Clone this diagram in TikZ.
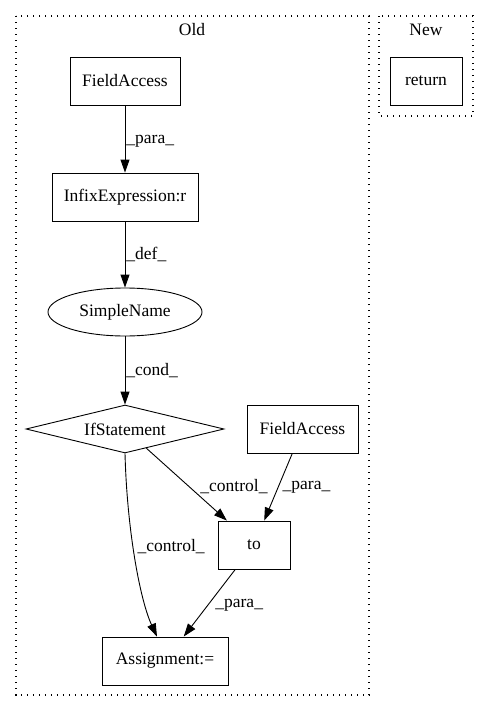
\documentclass[tikz,border=0pt]{standalone}
\usepackage{fontspec}
\setmainfont{Liberation Serif}
\usetikzlibrary{shapes.geometric, arrows.meta, calc}

\begin{document}
\begin{tikzpicture}[x=1pt, y=-1pt, font=\fontsize{17.5}{20}\selectfont,
  box/.style={draw, line width=0.9pt, minimum width=#1, minimum height=48pt, inner sep=0pt},
  oval/.style={draw, ellipse, line width=0.9pt, minimum width=154pt, minimum height=48pt, inner sep=0pt},
  cond/.style={draw, diamond, aspect=4, line width=0.9pt, minimum width=198pt, minimum height=48pt, inner sep=0pt},
  edge/.style={-{Triangle[length=13pt, width=9pt]}, line width=0.9pt},
  lbl/.style={anchor=west, inner sep=1pt},
  cluster/.style={line width=1.1pt, dash pattern=on 1.2pt off 4.8pt}]
  \useasboundingbox (0,0) rectangle (489,712);

  % Clusters
  \draw[cluster] (16,16) rectangle (369,695);
  \node (old) at (192,30) {Old};
  \draw[cluster] (379,16) rectangle (473,116);
  \node (new) at (426,30) {New};

  % Old
  \node[box=110pt] (fa1) at (125,81) {FieldAccess};
  \node[box=146pt] (infix) at (125,197) {InfixExpression:r};
  \node[oval] (sname) at (125,312) {SimpleName};
  \node[cond] (ifst) at (125,429) {IfStatement};
  \node[box=111pt] (fa2) at (302.5,429) {FieldAccess};
  \node[box=72pt] (to) at (254,545) {to};
  \node[box=126pt] (assign) at (165,661) {Assignment:=};

  % New
  \node[box=72pt] (ret) at (426,81) {return};

  % Edges
  \draw[edge] (fa1) -- node[lbl, pos=0.54] {\_para\_} (infix);
  \draw[edge] (infix) -- node[lbl, pos=0.5] {\_def\_} (sname);
  \draw[edge] (sname) -- node[lbl, pos=0.5] {\_cond\_} (ifst);
  \draw[edge] (ifst) -- node[lbl, pos=0.53, xshift=10pt] {\_control\_} (to);
  \draw[edge] (fa2) -- node[lbl, pos=0.5, xshift=3pt] {\_para\_} (to);
  \draw[edge] (ifst.south) .. controls (127,530) and (140,600) .. node[lbl, pos=0.43, xshift=3pt] {\_control\_} ($(assign.north)+(-8,0)$);
  \draw[edge] (to) -- node[lbl, pos=0.53, xshift=6pt] {\_para\_} (assign);
\end{tikzpicture}
\end{document}
